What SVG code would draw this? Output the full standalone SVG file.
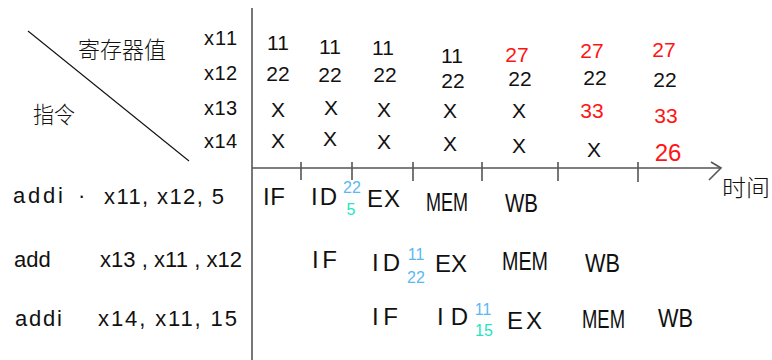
<svg xmlns="http://www.w3.org/2000/svg" width="772" height="360" viewBox="0 0 772 360">
<style>
text{font-family:"Liberation Sans","Noto Sans CJK SC",sans-serif;fill:#111}
.cjk{font-family:"Noto Sans CJK SC","Noto Sans",sans-serif;font-size:23px;font-weight:300}
.reg{font-size:20px}
.v{font-size:21px;text-anchor:middle}
.r{fill:#ff1414}
.st{font-size:24px}
.mw{font-size:25px}
.ins{font-size:22px}
.b{fill:#5ab8f2;font-size:16px;text-anchor:middle}
.c{fill:#22e6c0;font-size:16px;text-anchor:middle}
.ax{stroke:#555;stroke-width:1.6;fill:none}
</style>
<rect width="772" height="360" fill="#fff"/>
<g id="connectors">
<line x1="28" y1="31" x2="189" y2="161" stroke="#111" stroke-width="1.1"/>
<line class="ax" x1="252" y1="8" x2="252" y2="360"/>
<line class="ax" x1="252" y1="168" x2="721" y2="168"/>
<polyline class="ax" points="711,162 721,168 709,180"/>
<path class="ax" d="M301 162V180M352 162V180M413 162V181M482 162V181M558 162V181M638 162V182"/>
</g>
<g id="header">
<text class="cjk" x="78" y="58" textLength="88" lengthAdjust="spacingAndGlyphs">寄存器值</text>
<text class="cjk" x="33" y="123" textLength="42" lengthAdjust="spacingAndGlyphs">指令</text>
<text class="cjk" x="722" y="196" textLength="48" lengthAdjust="spacingAndGlyphs">时间</text>
</g>
<g id="registers">
<text class="reg" x="204" y="45" textLength="33">x11</text>
<text class="reg" x="204" y="80" textLength="33">x12</text>
<text class="reg" x="204" y="115" textLength="33">x13</text>
<text class="reg" x="204" y="148" textLength="33">x14</text>
</g>
<g id="values">
<text class="v" x="278" y="50">11</text><text class="v" x="278" y="81">22</text><text class="v" x="278" y="117">X</text><text class="v" x="278" y="148">X</text>
<text class="v" x="330" y="54">11</text><text class="v" x="330" y="82">22</text><text class="v" x="331" y="115">X</text><text class="v" x="330" y="146">X</text>
<text class="v" x="383" y="55">11</text><text class="v" x="385" y="82">22</text><text class="v" x="384" y="117">X</text><text class="v" x="384" y="149">X</text>
<text class="v" x="452" y="63">11</text><text class="v" x="453" y="88">22</text><text class="v" x="450" y="118">X</text><text class="v" x="450" y="151">X</text>
<text class="v r" x="517" y="62">27</text><text class="v" x="520" y="86">22</text><text class="v" x="519" y="118">X</text><text class="v" x="519" y="153">X</text>
<text class="v r" x="592" y="58">27</text><text class="v" x="595" y="85">22</text><text class="v r" x="592" y="118">33</text><text class="v" x="594" y="157">X</text>
<text class="v r" x="664" y="57">27</text><text class="v" x="665" y="87">22</text><text class="v r" x="666" y="123">33</text><text class="v r" x="668" y="161" style="font-size:24px">26</text>
</g>
<g id="instr1">
<text class="ins" x="13" y="203" textLength="50">addi</text>
<text class="ins" x="78" y="203">·</text>
<text class="ins" x="104" y="204" textLength="120">x11,  x12,  5</text>
</g>
<g id="instr2">
<text class="ins" x="14" y="267">add</text>
<text class="ins" x="100" y="267" textLength="142">x13 , x11 , x12</text>
</g>
<g id="instr3">
<text class="ins" x="15" y="326" textLength="47">addi</text>
<text class="ins" x="98" y="326" textLength="139">x14,  x11,  15</text>
</g>
<g id="pipe1">
<text class="st" x="263" y="205" textLength="22">IF</text>
<text class="st" x="311" y="205" textLength="26">ID</text>
<text class="b" x="352" y="193">22</text>
<text class="c" x="351" y="215">5</text>
<text class="st" x="367" y="207" textLength="33">EX</text>
<text class="mw" x="426" y="211" textLength="42" lengthAdjust="spacingAndGlyphs">MEM</text>
<text class="mw" x="505" y="212" textLength="33" lengthAdjust="spacingAndGlyphs">WB</text>
</g>
<g id="pipe2">
<text class="st" x="312" y="268" textLength="25">IF</text>
<text class="st" x="372" y="271" textLength="28">ID</text>
<text class="b" x="416" y="260">11</text>
<text class="b" x="416" y="283">22</text>
<text class="st" x="435" y="272" textLength="32">EX</text>
<text class="mw" x="502" y="270" textLength="46" lengthAdjust="spacingAndGlyphs">MEM</text>
<text class="mw" x="585" y="272" textLength="35" lengthAdjust="spacingAndGlyphs">WB</text>
</g>
<g id="pipe3">
<text class="st" x="372" y="325" textLength="26">IF</text>
<text class="st" x="437" y="325" textLength="31">ID</text>
<text class="b" x="483" y="315">11</text>
<text class="c" x="484" y="336">15</text>
<text class="st" x="507" y="329" textLength="35">EX</text>
<text class="mw" x="582" y="328" textLength="43" lengthAdjust="spacingAndGlyphs">MEM</text>
<text class="mw" x="658" y="327" textLength="35" lengthAdjust="spacingAndGlyphs">WB</text>
</g>
</svg>
